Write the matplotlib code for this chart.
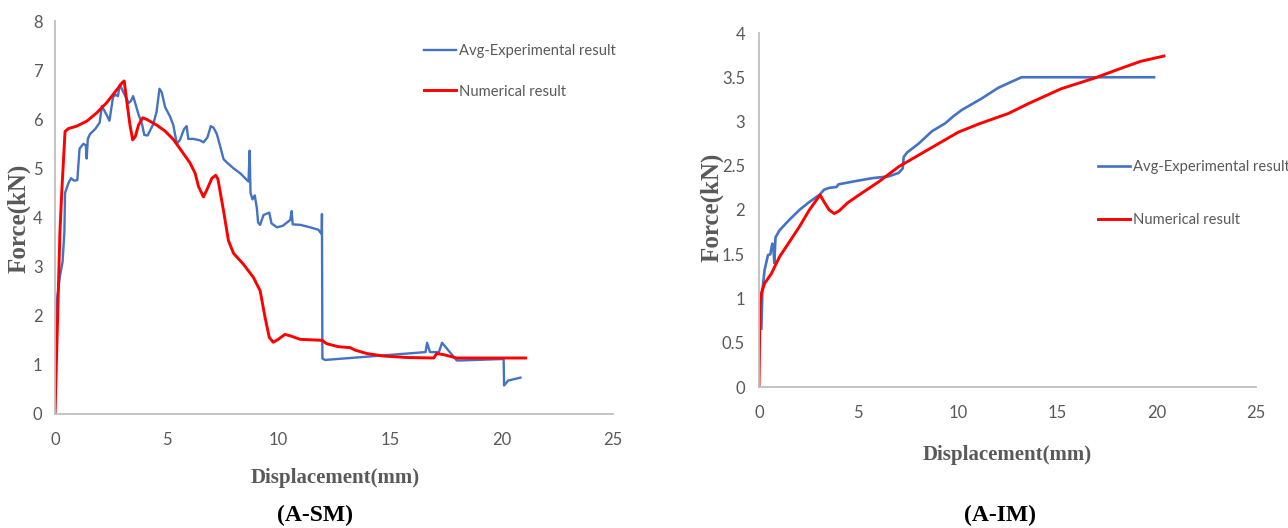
import matplotlib
matplotlib.use("Agg")
import matplotlib.pyplot as plt

# ---------------- data ----------------
sm_exp_x = [0, 0.08, 0.22, 0.34, 0.42, 0.45, 0.6, 0.72, 0.85, 1.0, 1.1, 1.27, 1.38, 1.42, 1.47,
            1.57, 1.8, 2.0, 2.1, 2.3, 2.44, 2.6, 2.72, 2.82, 2.9, 2.98, 3.3, 3.4, 3.5, 3.58,
            3.74, 3.9, 4.0, 4.15, 4.4, 4.55, 4.68, 4.78, 4.93, 5.16, 5.3, 5.46, 5.6, 5.78, 5.9,
            5.97, 6.2, 6.5, 6.65, 6.83, 6.98, 7.1, 7.25, 7.4, 7.55, 7.7, 8.0, 8.3, 8.67, 8.72,
            8.76, 8.85, 8.95, 9.04, 9.1, 9.19, 9.34, 9.6, 9.7, 9.94, 10.2, 10.54, 10.6, 10.65,
            11.0, 11.43, 11.8, 11.95, 11.96, 11.98, 12.1, 16.6, 16.67, 16.8, 17.2, 17.34, 17.56,
            18.0, 18.2, 20.1, 20.12, 20.3, 20.85]
sm_exp_y = [0, 2.3, 2.8, 3.1, 3.7, 4.5, 4.7, 4.8, 4.75, 4.76, 5.4, 5.5, 5.47, 5.2, 5.6,
            5.7, 5.8, 5.93, 6.27, 6.1, 5.97, 6.45, 6.5, 6.47, 6.7, 6.63, 6.33, 6.37, 6.47, 6.35,
            6.1, 5.9, 5.68, 5.67, 5.9, 6.15, 6.62, 6.55, 6.25, 6.05, 5.88, 5.5, 5.58, 5.8, 5.86,
            5.6, 5.6, 5.57, 5.53, 5.63, 5.86, 5.83, 5.7, 5.45, 5.19, 5.12, 5.0, 4.9, 4.73, 5.36,
            4.5, 4.37, 4.45, 4.2, 3.9, 3.85, 4.05, 4.1, 3.88, 3.8, 3.83, 3.95, 4.13, 3.86,
            3.85, 3.8, 3.75, 3.66, 4.07, 1.13, 1.1, 1.26, 1.45, 1.26, 1.26, 1.45, 1.33,
            1.09, 1.09, 1.12, 0.58, 0.68, 0.74]

sm_num_x = [0, 0.22, 0.3, 0.45, 0.6, 0.97, 1.42, 1.87, 2.32, 2.77, 3.0, 3.1, 3.22, 3.36, 3.48,
            3.6, 3.74, 3.93, 4.1, 4.56, 4.93, 5.3, 5.68, 6.05, 6.28, 6.43, 6.65, 6.8, 7.03, 7.2,
            7.3, 7.55, 7.77, 8.0, 8.44, 8.89, 9.19, 9.41, 9.6, 9.78, 10.0, 10.3, 10.55, 10.98,
            11.96, 12.18, 12.7, 13.23, 13.45, 13.98, 14.72, 15.77, 16.97, 17.1, 17.4, 18.0, 21.08]
sm_num_y = [0, 3.7, 4.5, 5.75, 5.81, 5.86, 5.96, 6.13, 6.34, 6.6, 6.74, 6.78, 6.35, 5.88, 5.58,
            5.65, 5.88, 6.03, 6.0, 5.88, 5.76, 5.59, 5.35, 5.11, 4.9, 4.63, 4.42, 4.56, 4.8, 4.86,
            4.78, 4.14, 3.53, 3.27, 3.05, 2.78, 2.51, 1.97, 1.56, 1.46, 1.52, 1.62, 1.59, 1.52,
            1.5, 1.43, 1.37, 1.35, 1.3, 1.23, 1.18, 1.15, 1.14, 1.23, 1.21, 1.14, 1.14]

im_exp_x = [0.12, 0.17, 0.28, 0.45, 0.57, 0.67, 0.72, 0.77, 0.83, 1.03, 1.53, 2.03, 2.53, 3.03,
            3.28, 3.53, 3.9, 4.0, 4.7, 5.7, 6.53, 7.03, 7.23, 7.28, 7.45, 8.03, 8.7, 9.37, 9.78,
            10.2, 11.2, 12.03, 13.2, 13.45, 19.87]
im_exp_y = [0.66, 1.09, 1.32, 1.49, 1.5, 1.62, 1.6, 1.4, 1.69, 1.77, 1.89, 2.0, 2.09, 2.17,
            2.23, 2.25, 2.26, 2.29, 2.32, 2.36, 2.38, 2.42, 2.47, 2.6, 2.65, 2.75, 2.89, 2.98, 3.06,
            3.13, 3.26, 3.38, 3.5, 3.5, 3.5]

im_num_x = [0, 0.05, 0.12, 0.28, 0.62, 1.03, 1.53, 2.03, 2.53, 3.07, 3.28, 3.53, 3.78, 4.03,
            4.45, 5.03, 6.03, 7.03, 8.03, 9.03, 10.03, 11.03, 12.03, 12.54, 13.53, 15.2, 16.87,
            18.2, 19.2, 20.37]
im_num_y = [0, 0.9, 1.06, 1.17, 1.28, 1.47, 1.64, 1.81, 2.0, 2.17, 2.09, 2.0, 1.96, 1.99,
            2.08, 2.17, 2.32, 2.49, 2.62, 2.75, 2.88, 2.97, 3.05, 3.09, 3.2, 3.37, 3.49,
            3.6, 3.68, 3.74]

x_ticks = [0, 5, 10, 15, 20, 25]
sm_y_ticks = [0, 1, 2, 3, 4, 5, 6, 7, 8]
im_y_ticks = [0, 0.5, 1, 1.5, 2, 2.5, 3, 3.5, 4]
im_y_labels = ["0", "0.5", "1", "1.5", "2", "2.5", "3", "3.5", "4"]

series_labels = ["Avg-Experimental result", "Numerical result"]
captions = ["(A-SM)", "(A-IM)"]
x_label = "Displacement(mm)"
y_label = "Force(kN)"

# ---------------- style ----------------
W, H = 1288, 528
BLUE = "#4472C4"
RED = "#FF0000"
GRAY_AX = "#BFBFBF"
GRAY_TXT = "#595959"
SANS = ["Lato", "DejaVu Sans"]
SERIF = ["Liberation Serif", "DejaVu Serif"]

fig = plt.figure(figsize=(W / 100, H / 100), dpi=100)


def px_axes(x0, x1, ytop, ybot):
    return fig.add_axes([x0 / W, 1 - ybot / H, (x1 - x0) / W, (ybot - ytop) / H])


def style(ax, yticks, ylabels, ylim, ypad, xpad):
    ax.set_xlim(0, 25)
    ax.set_ylim(*ylim)
    ax.set_xticks(x_ticks)
    ax.set_xticklabels([str(t) for t in x_ticks])
    ax.set_yticks(yticks)
    ax.set_yticklabels(ylabels)
    for s in ("top", "right"):
        ax.spines[s].set_visible(False)
    for s in ("left", "bottom"):
        ax.spines[s].set_color(GRAY_AX)
        ax.spines[s].set_linewidth(1.3)
    ax.tick_params(axis="both", length=0, colors=GRAY_TXT, labelsize=12)
    ax.tick_params(axis="y", pad=ypad)
    ax.tick_params(axis="x", pad=xpad)
    for lab in ax.get_xticklabels() + ax.get_yticklabels():
        lab.set_family(SANS)
    ax.patch.set_alpha(0)


# Left chart (A-SM)
ax1 = px_axes(55, 613, 21, 414)
l1, = ax1.plot(sm_exp_x, sm_exp_y, color=BLUE, lw=1.7, solid_joinstyle="round")
l2, = ax1.plot(sm_num_x, sm_num_y, color=RED, lw=2.1, solid_joinstyle="round")
style(ax1, sm_y_ticks, [str(t) for t in sm_y_ticks], (0, 8), 9, 13)
leg1 = ax1.legend([l1, l2], series_labels, loc="upper left",
                  bbox_to_anchor=(424 / W, 1 - 44 / H), bbox_transform=fig.transFigure,
                  frameon=False, borderpad=0, borderaxespad=0, handlelength=2.2,
                  handletextpad=0.15, labelspacing=1.8,
                  prop={"family": SANS, "size": 10.6})
for t in leg1.get_texts():
    t.set_color(GRAY_TXT)

# Right chart (A-IM)
ax2 = px_axes(759, 1256, 33, 387)
r1, = ax2.plot(im_exp_x, im_exp_y, color=BLUE, lw=1.9, solid_joinstyle="round")
r2, = ax2.plot(im_num_x, im_num_y, color=RED, lw=2.1, solid_joinstyle="round")
style(ax2, im_y_ticks, im_y_labels, (0, 4), 10, 13)
leg2 = ax2.legend([r1, r2], series_labels, loc="upper left",
                  bbox_to_anchor=(1098 / W, 1 - 160 / H), bbox_transform=fig.transFigure,
                  frameon=False, borderpad=0, borderaxespad=0, handlelength=2.2,
                  handletextpad=0.15, labelspacing=2.65,
                  prop={"family": SANS, "size": 10.6})
for t in leg2.get_texts():
    t.set_color(GRAY_TXT)

# Axis labels
fig.text(19 / W, 1 - 218 / H, y_label, rotation=90, ha="center", va="center",
         family=SERIF, weight="bold", size=18, color=GRAY_TXT)
fig.text(712 / W, 1 - 207 / H, y_label, rotation=90, ha="center", va="center",
         family=SERIF, weight="bold", size=18, color=GRAY_TXT)
fig.text(335 / W, 1 - 478 / H, x_label, ha="center", va="center",
         family=SERIF, weight="bold", size=15, color=GRAY_TXT)
fig.text(1007 / W, 1 - 455 / H, x_label, ha="center", va="center",
         family=SERIF, weight="bold", size=15, color=GRAY_TXT)

# Captions
fig.text(315 / W, 1 - 515 / H, captions[0], ha="center", va="center",
         family=SERIF, weight="bold", size=17, color="black")
fig.text(1000 / W, 1 - 515 / H, captions[1], ha="center", va="center",
         family=SERIF, weight="bold", size=17, color="black")

fig.savefig("out.png", dpi=100, facecolor="white")
